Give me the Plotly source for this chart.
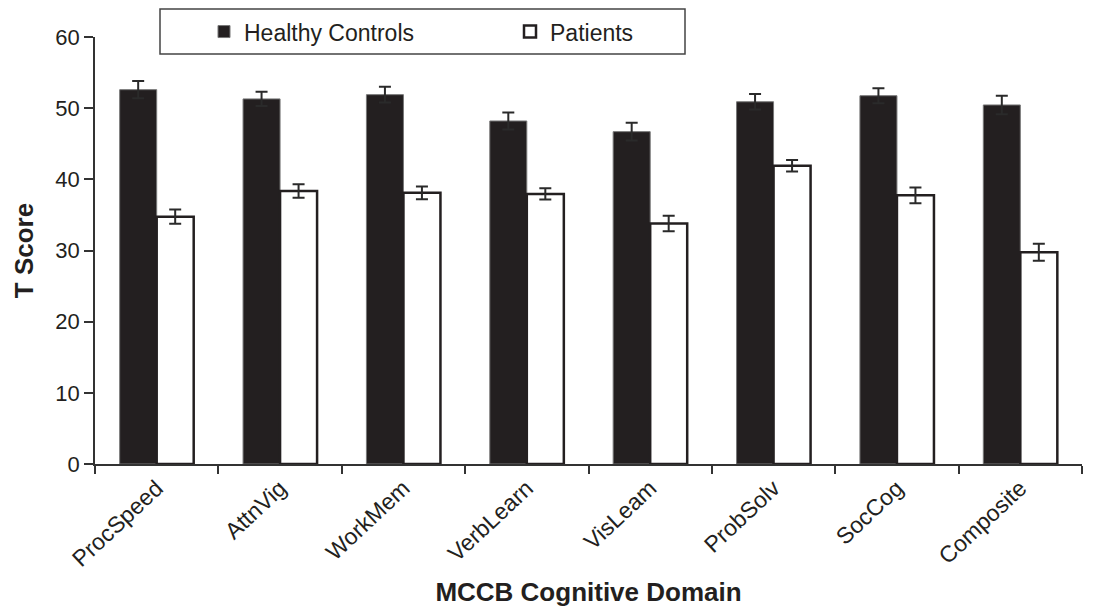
import plotly.graph_objects as go

domains = ["ProcSpeed", "AttnVig", "WorkMem", "VerbLearn", "VisLeam", "ProbSolv", "SocCog", "Composite"]
healthy = [52.6, 51.3, 51.9, 48.2, 46.7, 50.9, 51.75, 50.45]
healthy_err = [1.2, 1.0, 1.1, 1.2, 1.25, 1.1, 1.05, 1.3]
patients = [34.75, 38.35, 38.1, 37.95, 33.8, 41.9, 37.75, 29.75]
patients_err = [1.0, 0.95, 0.9, 0.8, 1.1, 0.8, 1.1, 1.2]

ink = "#231f20"
font_family = "Liberation Sans, Arial, Helvetica, sans-serif"

fig = go.Figure()
fig.add_trace(go.Bar(
    name="Healthy Controls", x=domains, y=healthy,
    marker=dict(color=ink, line=dict(color="#777777", width=1)),
    error_y=dict(type="data", array=healthy_err, visible=True, color="#2a2a2a", thickness=2, width=6),
))
fig.add_trace(go.Bar(
    name="Patients", x=domains, y=patients,
    marker=dict(color="white", line=dict(color=ink, width=2.5)),
    error_y=dict(type="data", array=patients_err, visible=True, color="#2a2a2a", thickness=2, width=6),
))

fig.update_layout(
    width=1085, height=601,
    margin=dict(l=87, r=11, t=29, b=145, autoexpand=False),
    paper_bgcolor="white", plot_bgcolor="white",
    barmode="group", bargap=0.4, bargroupgap=0,
    font=dict(family=font_family, color=ink, size=21),
    showlegend=True,
    legend=dict(
        orientation="h", x=(204 - 95) / 987, xanchor="left", y=1.063, yanchor="top",
        bgcolor="rgba(0,0,0,0)", borderwidth=0,
        entrywidth=261, entrywidthmode="pixels",
        font=dict(size=23, color=ink), itemclick=False,
    ),
    shapes=[dict(
        type="rect", xref="paper", yref="paper",
        x0=(160 - 95) / 987, x1=(685 - 95) / 987,
        y0=(464 - 54) / 427, y1=(464 - 9) / 427,
        line=dict(color="#444444", width=1.5), fillcolor="rgba(0,0,0,0)",
    )],
)

fig.update_xaxes(
    automargin=False,
    showline=True, linecolor="#333333", linewidth=1.5,
    ticks="outside", tickson="boundaries", ticklen=8, tickcolor="#333333", tickwidth=1.5,
    tickangle=-43, tickfont=dict(size=23, color=ink),
    title=dict(text="<b>MCCB Cognitive Domain</b>", font=dict(size=26, color=ink), standoff=12),
    showgrid=False, zeroline=False,
)
fig.update_yaxes(
    automargin=False,
    range=[0, 60], tickvals=[0, 10, 20, 30, 40, 50, 60],
    showline=True, linecolor="#333333", linewidth=1.5,
    ticks="outside", ticklen=9, tickcolor="#333333", tickwidth=1.5,
    tickfont=dict(size=22, color=ink),
    title=dict(text="<b>T Score</b>", font=dict(size=26, color=ink), standoff=14),
    showgrid=False, zeroline=False,
)

fig.write_html("out.html")
